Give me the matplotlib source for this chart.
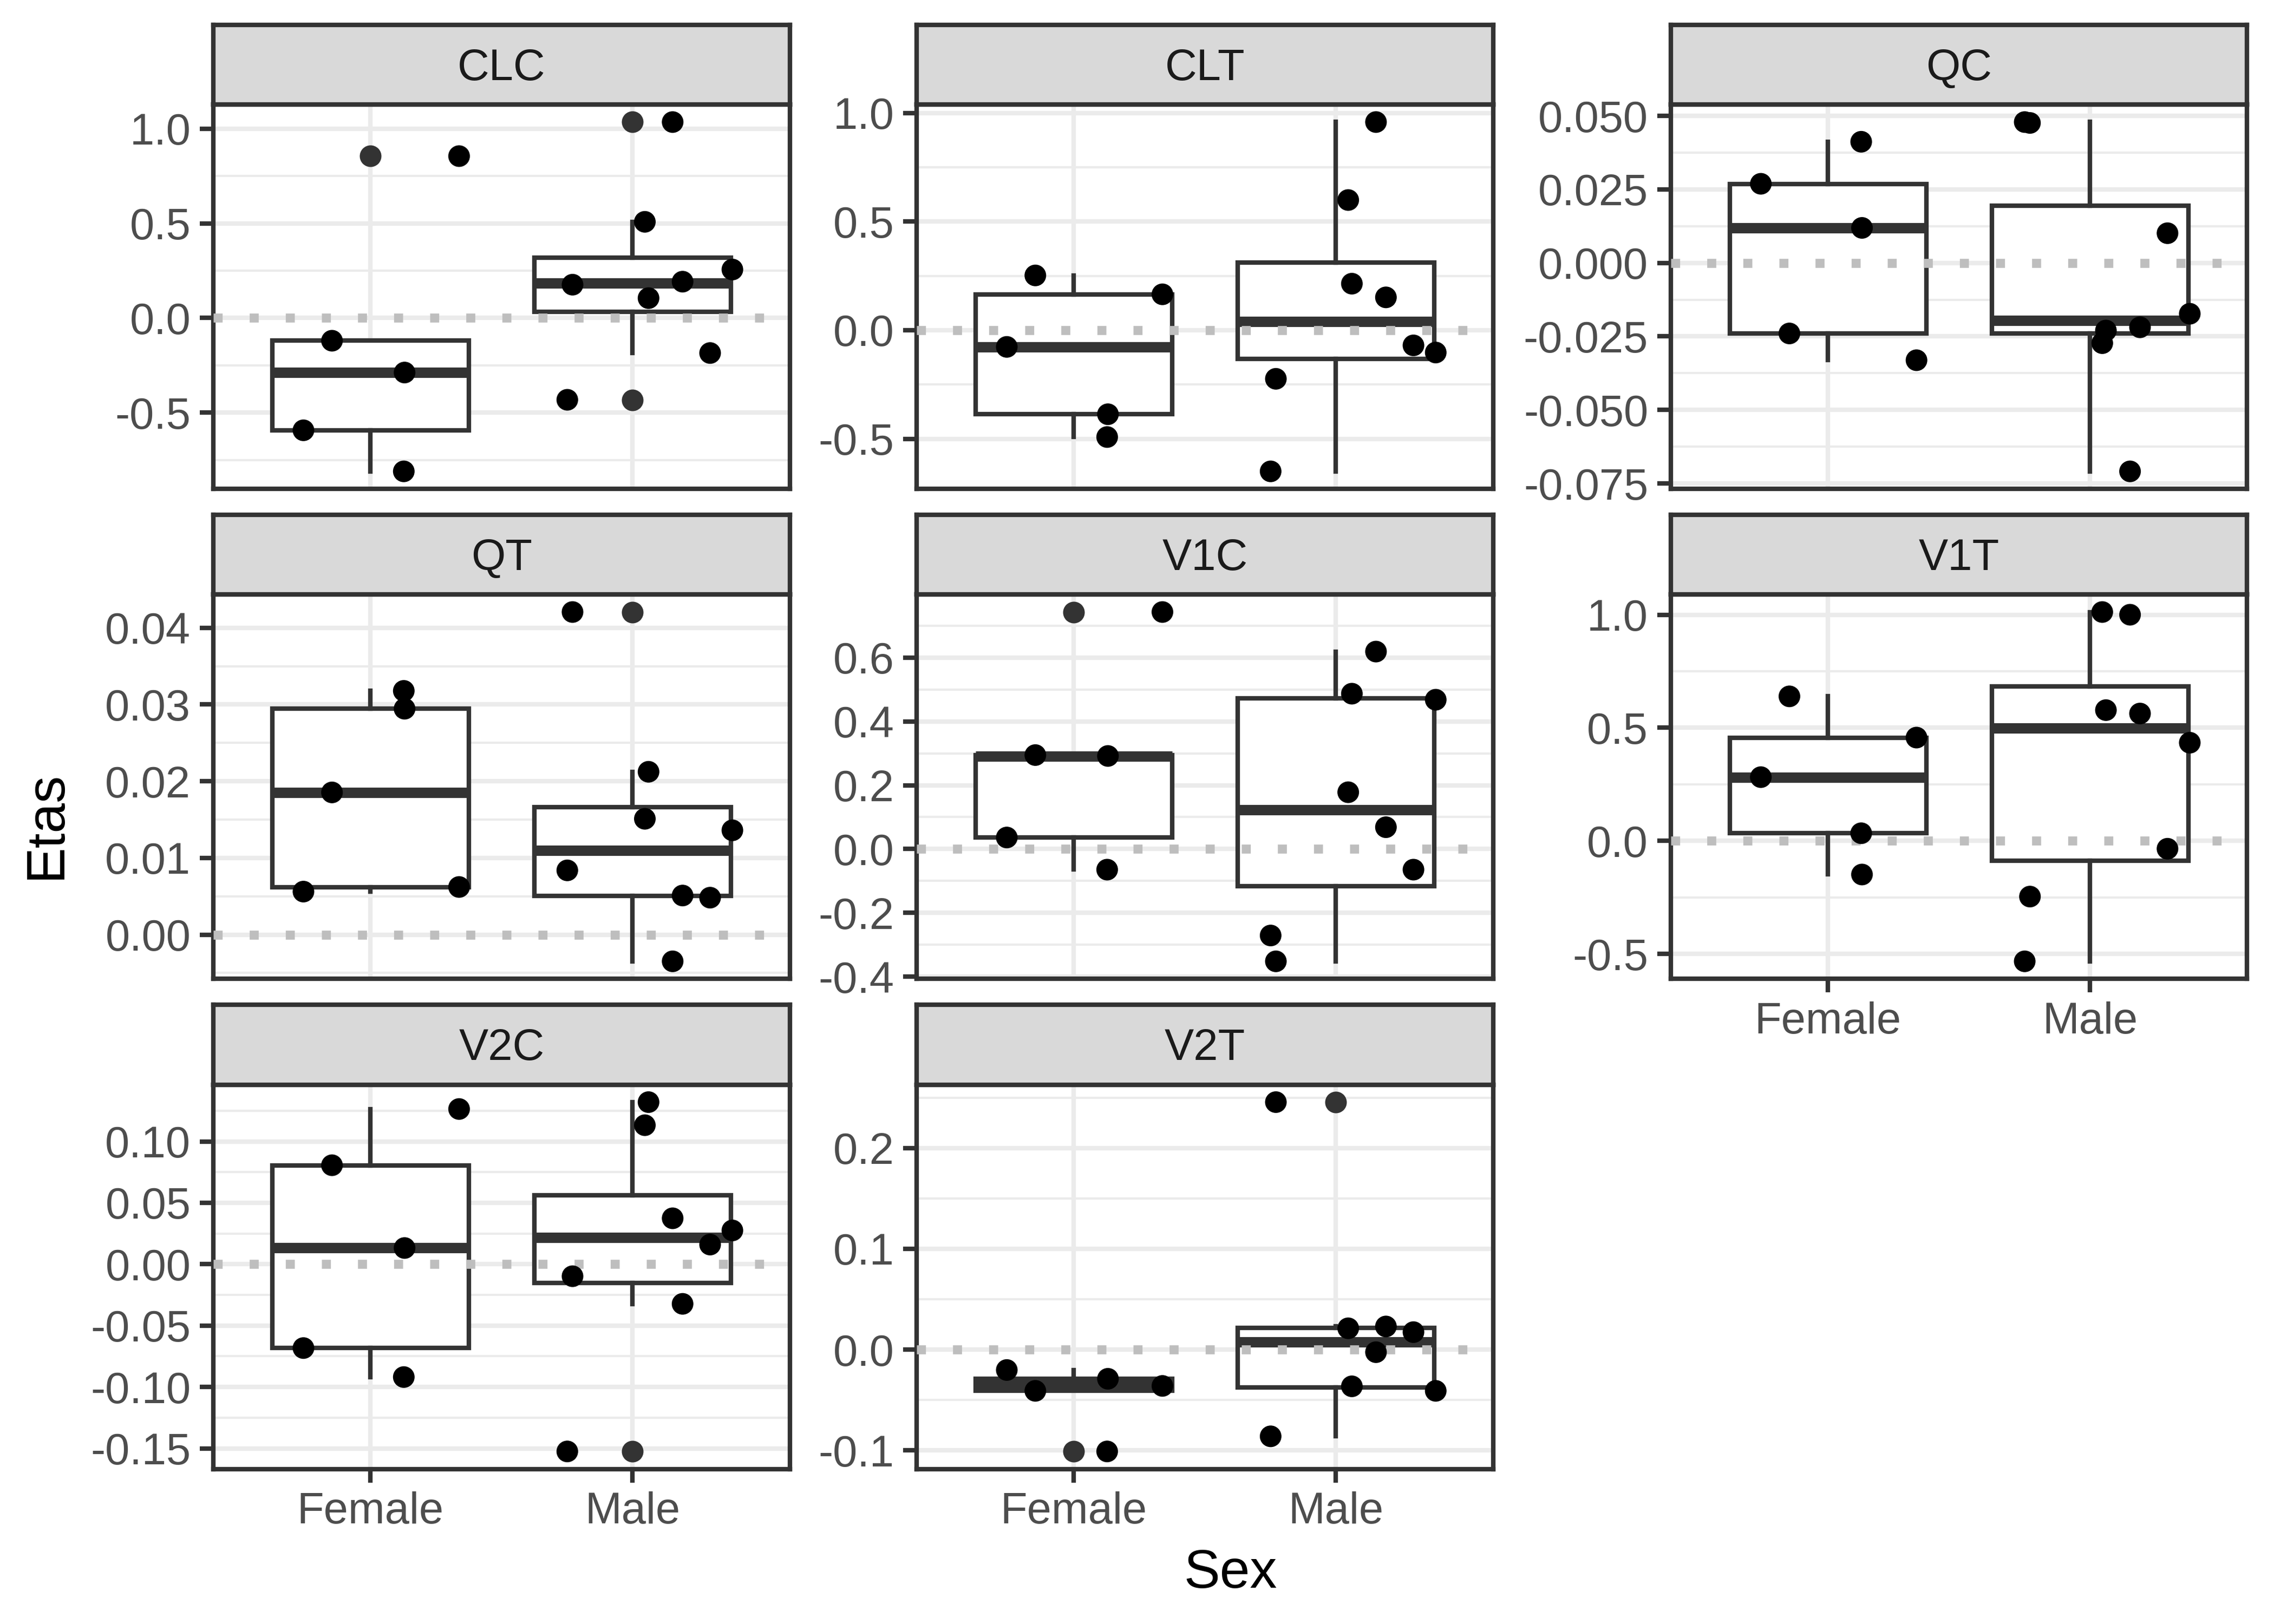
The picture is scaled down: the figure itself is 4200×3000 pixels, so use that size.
import matplotlib
matplotlib.use('Agg')
import matplotlib.pyplot as plt

plt.rcParams['font.family'] = ['Liberation Sans', 'DejaVu Sans']

# facet names in facet_wrap order
panels = ['CLC', 'CLT', 'QC', 'QT', 'V1C', 'V1T', 'V2C', 'V2T']
groups = ['Female', 'Male']

# horizontal jitter of each subject (same in every panel)
jit_f = [-0.256, -0.147, 0.127, 0.130, 0.338]
jit_m = [-0.249, -0.229, 0.047, 0.061, 0.153, 0.191, 0.296, 0.381]

# eta values per panel, in subject order
female = {
    'CLC': [-0.593, -0.12, -0.81, -0.288, 0.855],
    'CLT': [-0.077, 0.252, -0.492, -0.387, 0.165],
    'QC': [0.0269, -0.0240, 0.0412, 0.0119, -0.0331],
    'QT': [0.00561, 0.01854, 0.03178, 0.02945, 0.00621],
    'V1C': [0.0361, 0.2945, -0.0646, 0.2917, 0.743],
    'V1T': [0.2816, 0.639, 0.0335, -0.149, 0.4566],
    'V2C': [-0.0683, 0.0806, -0.0919, 0.0132, 0.1264],
    'V2T': [-0.0203, -0.041, -0.1011, -0.029, -0.0361],
}
male = {
    'CLC': [-0.432, 0.176, 0.508, 0.105, 1.035, 0.192, -0.185, 0.256],
    'CLT': [-0.650, -0.224, 0.599, 0.214, 0.958, 0.151, -0.070, -0.103],
    'QC': [0.0479, 0.0476, -0.0273, -0.0230, -0.0709, -0.0219, 0.0101, -0.0173],
    'QT': [0.00838, 0.04206, 0.0151, 0.02123, -0.00348, 0.0051, 0.00482, 0.0136],
    'V1C': [-0.271, -0.352, 0.178, 0.487, 0.619, 0.0684, -0.0646, 0.468],
    'V1T': [-0.533, -0.2466, 1.012, 0.578, 1.0, 0.563, -0.035, 0.434],
    'V2C': [-0.1525, -0.0098, 0.1132, 0.132, 0.0374, -0.0323, 0.016, 0.0275],
    'V2T': [-0.0861, 0.2455, 0.0211, -0.0365, -0.0026, 0.0229, 0.0173, -0.041],
}

yticks = {
    'CLC': [-0.5, 0.0, 0.5, 1.0],
    'CLT': [-0.5, 0.0, 0.5, 1.0],
    'QC': [-0.075, -0.05, -0.025, 0.0, 0.025, 0.05],
    'QT': [0.0, 0.01, 0.02, 0.03, 0.04],
    'V1C': [-0.4, -0.2, 0.0, 0.2, 0.4, 0.6],
    'V1T': [-0.5, 0.0, 0.5, 1.0],
    'V2C': [-0.15, -0.10, -0.05, 0.0, 0.05, 0.10],
    'V2T': [-0.1, 0.0, 0.1, 0.2],
}
ylabels = {
    'CLC': ['-0.5', '0.0', '0.5', '1.0'],
    'CLT': ['-0.5', '0.0', '0.5', '1.0'],
    'QC': ['-0.075', '-0.050', '-0.025', '0.000', '0.025', '0.050'],
    'QT': ['0.00', '0.01', '0.02', '0.03', '0.04'],
    'V1C': ['-0.4', '-0.2', '0.0', '0.2', '0.4', '0.6'],
    'V1T': ['-0.5', '0.0', '0.5', '1.0'],
    'V2C': ['-0.15', '-0.10', '-0.05', '0.00', '0.05', '0.10'],
    'V2T': ['-0.1', '0.0', '0.1', '0.2'],
}

dark = '#333333'
fig = plt.figure(figsize=(14, 10), dpi=300)

col_x = [0.0938, 0.4031, 0.7347]
row_b = [0.699, 0.3973, 0.0955]
pw, ph, sh = 0.2535, 0.2366, 0.0491
show_x = ['V1T', 'V2C', 'V2T']

for i, name in enumerate(panels):
    r, c = divmod(i, 3)
    ax = fig.add_axes([col_x[c], row_b[r], pw, ph])
    f = female[name]
    m = male[name]

    ax.boxplot([f, m], positions=[1, 2], widths=0.75, patch_artist=True,
               showcaps=False, whis=1.5,
               boxprops=dict(facecolor='white', edgecolor=dark, linewidth=2.0),
               whiskerprops=dict(color=dark, linewidth=2.0),
               medianprops=dict(color=dark, linewidth=4.6, solid_capstyle='butt'),
               flierprops=dict(marker='o', markerfacecolor=dark, markeredgecolor='none',
                               markersize=9.6),
               zorder=2)
    ax.axhline(0, color='#BEBEBE', linewidth=4, dashes=(1, 3), zorder=3)
    ax.scatter([1 + j for j in jit_f], f, s=92, color='black', edgecolors='none', zorder=4)
    ax.scatter([2 + j for j in jit_m], m, s=92, color='black', edgecolors='none', zorder=4)

    t = yticks[name]
    step = t[1] - t[0]
    minors = [t[0] - step / 2] + [v + step / 2 for v in t]
    ax.set_yticks(t)
    ax.set_yticklabels(ylabels[name])
    ax.set_yticks(minors, minor=True)
    ax.set_xticks([1, 2])

    vals = f + m
    lo, hi = min(vals), max(vals)
    pad = 0.05 * (hi - lo)
    ax.set_ylim(lo - pad, hi + pad)
    ax.set_xlim(0.4, 2.6)

    ax.grid(True, which='major', color='#EBEBEB', linewidth=2)
    ax.grid(True, which='minor', axis='y', color='#EBEBEB', linewidth=1)
    ax.set_axisbelow(True)
    ax.tick_params(axis='y', which='minor', length=0)
    ax.tick_params(which='major', direction='out', length=6, width=2, color=dark,
                   labelcolor='#4D4D4D', labelsize=19.5, pad=4)
    if name in show_x:
        ax.set_xticklabels(groups)
    else:
        ax.tick_params(axis='x', length=0, labelbottom=False)
    for sp in ax.spines.values():
        sp.set_color(dark)
        sp.set_linewidth(2)

    # facet strip
    st = fig.add_axes([col_x[c], row_b[r] + ph, pw, sh])
    st.set_facecolor('#D9D9D9')
    st.set_xticks([])
    st.set_yticks([])
    for sp in st.spines.values():
        sp.set_color(dark)
        sp.set_linewidth(2)
    st.text(0.5, 0.45, name, ha='center', va='center', fontsize=19.5, color='#1A1A1A',
            transform=st.transAxes)

fig.text(0.0205, 0.492, 'Etas', rotation=90, ha='center', va='center', fontsize=24)
fig.text(0.541, 0.031, 'Sex', ha='center', va='center', fontsize=24)

fig.savefig('out.png', dpi=300, facecolor='white')
